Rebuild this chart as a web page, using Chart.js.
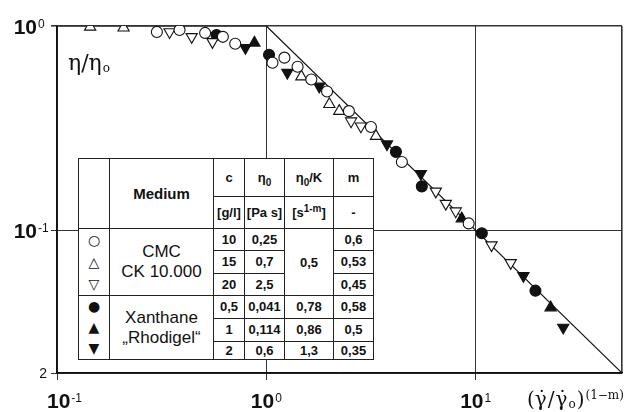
<!DOCTYPE html>
<html>
<head>
<meta charset="utf-8">
<script src="https://cdn.jsdelivr.net/npm/chart.js@4.4.1/dist/chart.umd.min.js"></script>
<style>
  html, body { margin: 0; padding: 0; background: #fff; }
  #wrap { position: relative; width: 639px; height: 412px; }
  #chart { position: absolute; left: 0; top: 0; }
  #medium-table {
    position: absolute; left: 78px; top: 158px;
    border-collapse: collapse; table-layout: fixed;
    border: 1.5px solid #111; background: #fff; color: #111;
    font-family: "Liberation Sans", Arial, sans-serif;
  }
  #medium-table td {
    border: 1px solid #222; padding: 0; text-align: center; vertical-align: middle;
    font-weight: bold; font-size: 13px; line-height: 1; overflow: hidden; white-space: nowrap;
  }
  #medium-table td.medium { font-size: 15px; }
  #medium-table td.sym { font-family: "DejaVu Sans", sans-serif; font-weight: normal; font-size: 14px; }
  #medium-table td.name { font-weight: normal; font-size: 17px; line-height: 20px; }
  #medium-table sub, #medium-table sup { font-size: 10px; line-height: 0; }
</style>
</head>
<body>
<div id="wrap">
  <canvas id="chart" width="639" height="412"></canvas>
  <table id="medium-table"></table>
</div>
<script>
// ---- data ----
// CMC CK 10.000, c = 10 g/l (open circles)
const CMC10_X = [0.30, 0.385, 0.51, 0.62, 0.71, 1.07, 1.22, 1.41, 1.64, 1.95, 2.48, 3.16, 4.44, 9.26];
const CMC10_Y = [0.935, 0.956, 0.925, 0.885, 0.818, 0.661, 0.70, 0.632, 0.547, 0.478, 0.383, 0.32, 0.216, 0.108];
// c = 15 g/l (open triangles up)
const CMC15_X = [0.144, 0.208, 1.47, 2.0, 2.23, 3.34];
const CMC15_Y = [0.99, 0.98, 0.565, 0.414, 0.383, 0.289];
// c = 20 g/l (open triangles down)
const CMC20_X = [0.345, 0.44, 0.553, 2.54, 2.83, 6.45, 7.2, 8.03, 11.9, 14.7];
const CMC20_Y = [0.935, 0.885, 0.836, 0.342, 0.323, 0.155, 0.135, 0.124, 0.0846, 0.0692];
// Xanthane "Rhodigel", c = 0.5 g/l (filled circles)
const XAN05_X = [0.578, 1.03, 4.16, 5.53, 10.7, 19.3];
const XAN05_Y = [0.904, 0.723, 0.242, 0.164, 0.0967, 0.0506];
// c = 1 g/l (filled triangles up)
const XAN1_X = [0.877, 8.58, 22.8];
const XAN1_Y = [0.827, 0.114, 0.0418];
// c = 2 g/l (filled triangles down)
const XAN2_X = [0.794, 1.26, 1.79, 3.77, 5.47, 16.9, 26.2];
const XAN2_Y = [0.782, 0.591, 0.506, 0.264, 0.189, 0.0598, 0.0334];
// theoretical curve: 1 up to x = 1, then 1/x
const THEORY_X = [0.1, 1, 50];
const THEORY_Y = [1, 1, 0.02];

// axes
const X_RANGE = [0.1, 50];
const Y_RANGE = [0.02, 1];
const X_GRID = [0.1, 1, 10, 50];
const Y_GRID = [0.02, 0.1, 1];
const X_TICKS = [0.1, 1, 10];
const X_TICK_BASE = ['10', '10', '10'];
const X_TICK_EXP = ['-1', '0', '1'];
const Y_TICKS = [1, 0.1, 0.02];
const Y_TICK_BASE = ['10', '10', '2'];
const Y_TICK_EXP = ['0', '-1', ''];

// table
const HEADER_TOP = ['Medium', 'c', 'η<sub>0</sub>', 'η<sub>0</sub>/K', 'm'];
const HEADER_UNITS = ['[g/l]', '[Pa s]', '[s<sup>1-m</sup>]', '-'];
const MEDIA = [['CMC', 'CK 10.000'], ['Xanthane', '„Rhodigel“']];
const SYMBOLS = [['○', '△', '▽'], ['●', '▲', '▼']];
const CONC = [['10', '15', '20'], ['0,5', '1', '2']];
const ETA0 = [['0,25', '0,7', '2,5'], ['0,041', '0,114', '0,6']];
const ETA0_K = [['0,5'], ['0,78', '0,86', '1,3']];
const M_EXP = [['0,6', '0,53', '0,45'], ['0,58', '0,5', '0,35']];

const INK = '#111';

function buildTable() {
  const colW = [31, 104, 31, 40, 49, 40];
  const rowH = [22, 22, 22, 21, 21, 17];
  let html = '<colgroup>' + colW.map(w => `<col style="width:${w}px">`).join('') + '</colgroup>';
  html += '<tr style="height:38px"><td rowspan="2"></td>' +
    `<td rowspan="2" class="medium">${HEADER_TOP[0]}</td>` +
    HEADER_TOP.slice(1).map(h => `<td>${h}</td>`).join('') + '</tr>';
  html += '<tr style="height:32px">' + HEADER_UNITS.map(h => `<td>${h}</td>`).join('') + '</tr>';

  MEDIA.forEach((name, g) => {
    for (let r = 0; r < 3; r++) {
      const h = rowH[g * 3 + r];
      html += `<tr style="height:${h}px">`;
      if (r === 0) {
        html += `<td rowspan="3" class="sym" style="line-height:${h}px">${SYMBOLS[g].join('<br>')}</td>`;
        html += `<td rowspan="3" class="name">${name.join('<br>')}</td>`;
      }
      html += `<td>${CONC[g][r]}</td><td>${ETA0[g][r]}</td>`;
      if (ETA0_K[g].length === 1) {
        if (r === 0) html += `<td rowspan="3">${ETA0_K[g][0]}</td>`;
      } else {
        html += `<td>${ETA0_K[g][r]}</td>`;
      }
      html += `<td>${M_EXP[g][r]}</td></tr>`;
    }
  });
  document.getElementById('medium-table').innerHTML = html;
}

function points(xs, ys) {
  return xs.map((v, i) => ({ x: v, y: ys[i] }));
}

function markerSet(label, xs, ys, style, filled, rotation) {
  const tri = style === 'triangle';
  return {
    label,
    data: points(xs, ys),
    showLine: false,
    pointStyle: style,
    pointRotation: rotation,
    pointRadius: tri ? 6.5 : 5.5,
    pointBackgroundColor: filled ? INK : '#fff',
    pointBorderColor: INK,
    pointBorderWidth: 1.1
  };
}

// base + superscript exponent, e.g. 10^-1
function drawPower(ctx, base, exp, px, baseline, align, baseFont) {
  ctx.font = baseFont;
  const bw = ctx.measureText(base).width;
  ctx.font = '12px "Liberation Sans", Arial, sans-serif';
  const ew = exp ? ctx.measureText(exp).width + 1 : 0;
  let left;
  if (align === 'center') left = Math.max(px - (bw + ew) / 2, 47);
  else left = px - bw; // base right-aligned at px
  ctx.textAlign = 'left';
  ctx.font = baseFont;
  ctx.fillText(base, left, baseline);
  if (exp) {
    ctx.font = '12px "Liberation Sans", Arial, sans-serif';
    ctx.fillText(exp, left + bw + 1, baseline - 6);
  }
}

// draws text piece, returns next x
function put(ctx, txt, x, y, font) {
  ctx.font = font;
  ctx.fillText(txt, x, y);
  return x + ctx.measureText(txt).width;
}

function dotted(ctx, txt, x, y, font) {
  const nx = put(ctx, txt, x, y, font);
  ctx.textAlign = 'center';
  ctx.fillText('˙', (x + nx) / 2 + 1, y - 1);
  ctx.textAlign = 'left';
  return nx;
}

const axisText = {
  id: 'axisText',
  afterDraw(chart) {
    const { ctx, scales: { x, y } } = chart;
    ctx.save();
    ctx.fillStyle = INK;
    ctx.textBaseline = 'alphabetic';
    const big = 'bold 21px "Liberation Sans", Arial, sans-serif';

    X_TICKS.forEach((v, i) => {
      drawPower(ctx, X_TICK_BASE[i], X_TICK_EXP[i], x.getPixelForValue(v), 408, 'center', big);
    });
    Y_TICKS.forEach((v, i) => {
      const py = y.getPixelForValue(v);
      if (Y_TICK_EXP[i]) {
        drawPower(ctx, Y_TICK_BASE[i], Y_TICK_EXP[i], 37, py + 7.5, 'right', big);
      } else {
        ctx.font = '14px "Liberation Sans", Arial, sans-serif';
        ctx.textAlign = 'right';
        ctx.fillText(Y_TICK_BASE[i], 47, py + 5);
      }
    });

    // y title inside the plot: eta/eta_o
    ctx.textAlign = 'left';
    const serif = '22px "DejaVu Serif", "Liberation Serif", serif';
    const serifSmall = '12px "DejaVu Serif", "Liberation Serif", serif';
    let cx = put(ctx, 'η/η', 68, 70, serif);
    put(ctx, 'o', cx + 1, 72, serifSmall);

    // x title: (gamma-dot / gamma-dot_o)^(1-m)
    const xf = '20px "DejaVu Serif", "Liberation Serif", serif';
    cx = 527;
    cx = put(ctx, '(', cx, 406, xf);
    cx = dotted(ctx, 'γ', cx, 406, xf);
    cx = put(ctx, '/', cx + 1, 406, xf);
    cx = dotted(ctx, 'γ', cx + 1, 406, xf);
    cx = put(ctx, 'o', cx + 1, 408, serifSmall);
    cx = put(ctx, ')', cx + 1, 406, xf);
    put(ctx, '(1−m)', cx + 1, 399, serifSmall);
    ctx.restore();
  }
};

function gridWidth(edge) {
  return c => (c.tick && c.tick.value === edge ? 1.6 : 1);
}

buildTable();

new Chart(document.getElementById('chart'), {
  type: 'scatter',
  data: {
    datasets: [
      markerSet('CMC 10 g/l', CMC10_X, CMC10_Y, 'circle', false, 0),
      markerSet('CMC 15 g/l', CMC15_X, CMC15_Y, 'triangle', false, 0),
      markerSet('CMC 20 g/l', CMC20_X, CMC20_Y, 'triangle', false, 180),
      markerSet('Xanthane 0,5 g/l', XAN05_X, XAN05_Y, 'circle', true, 0),
      markerSet('Xanthane 1 g/l', XAN1_X, XAN1_Y, 'triangle', true, 0),
      markerSet('Xanthane 2 g/l', XAN2_X, XAN2_Y, 'triangle', true, 180),
      {
        label: 'theory',
        data: points(THEORY_X, THEORY_Y),
        showLine: true,
        pointRadius: 0,
        borderColor: INK,
        borderWidth: 1.2,
        order: 10
      }
    ]
  },
  options: {
    responsive: false,
    animation: false,
    devicePixelRatio: 1,
    layout: { padding: { left: 0, top: 26, right: 17, bottom: 0 } },
    plugins: { legend: { display: false }, tooltip: { enabled: false } },
    scales: {
      x: {
        type: 'logarithmic',
        bounds: 'data',
        min: X_RANGE[0],
        max: X_RANGE[1],
        afterBuildTicks: s => { s.ticks = X_GRID.map(v => ({ value: v })); },
        afterFit: s => { s.height = 39; },
        ticks: { display: false },
        grid: {
          color: '#333',
          lineWidth: gridWidth(X_RANGE[1]),
          tickLength: 7,
          tickColor: c => (c.tick && c.tick.value === X_RANGE[1] ? 'rgba(0,0,0,0)' : '#333')
        },
        border: { color: INK, width: 1.6 }
      },
      y: {
        type: 'logarithmic',
        bounds: 'data',
        min: Y_RANGE[0],
        max: Y_RANGE[1],
        afterBuildTicks: s => { s.ticks = Y_GRID.map(v => ({ value: v })); },
        afterFit: s => { s.width = 57; },
        ticks: { display: false },
        grid: {
          color: '#333',
          lineWidth: gridWidth(Y_RANGE[1]),
          tickLength: 6,
          tickColor: '#333'
        },
        border: { color: INK, width: 1.6 }
      }
    }
  },
  plugins: [axisText]
});
</script>
</body>
</html>
